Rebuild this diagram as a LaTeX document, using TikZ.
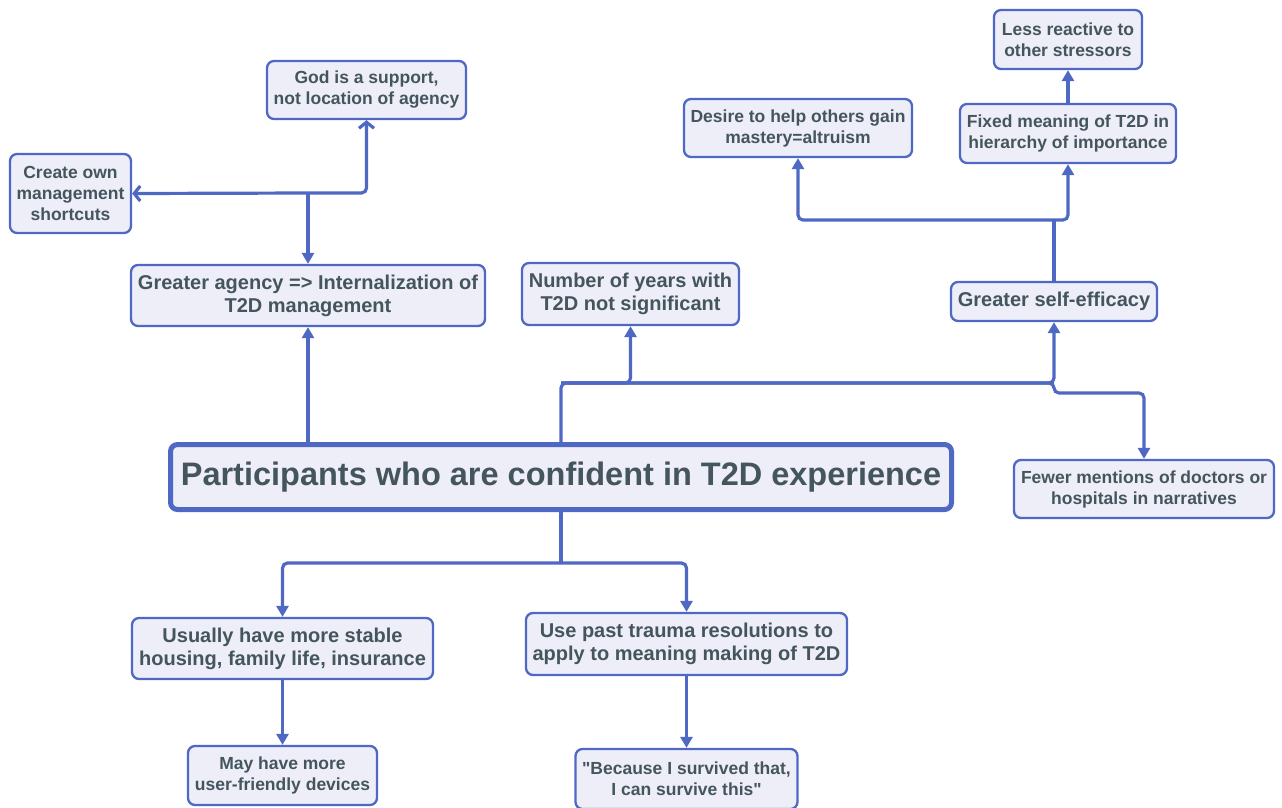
\documentclass[tikz,border=0pt]{standalone}
\usepackage{fontspec}
\setmainfont{Liberation Sans}[Ligatures=TeXOff]
\usetikzlibrary{arrows.meta,positioning,calc}
\definecolor{edgeblue}{HTML}{4F68C4}
\definecolor{boxfill}{HTML}{EDEEF8}
\definecolor{inktext}{HTML}{45555E}
\tikzset{
  box/.style={draw=edgeblue, fill=boxfill, line width=2.3pt, rounded corners=7pt,
    align=center, text=inktext, inner sep=0pt,
    font=\bfseries\fontsize{17.5}{21}\selectfont},
  bigbox/.style={box, font=\bfseries\fontsize{20}{23}\selectfont},
  mainbox/.style={box, line width=5pt, font=\bfseries\fontsize{32.5}{38}\selectfont},
  boxsize/.style 2 args={minimum width=#1pt, minimum height=#2pt},
  plain/.style={draw=edgeblue, line width=3.2pt, rounded corners=5pt},
  link/.style={plain, -{Triangle[length=11pt,width=12pt]}},
  openlink/.style={plain, -{Straight Barb[length=6pt,width=15pt]}},
}
\begin{document}
\begin{tikzpicture}[x=1pt, y=-1pt]
  \useasboundingbox (0,0) rectangle (1282,807);
  %centre
  \node[mainbox, boxsize={781}{65}] (main) at (561,477) {Participants who are confident in T2D experience};
  %upper left
  \node[bigbox, boxsize={354}{61}] (agency) at (308,295.5) {Greater agency => Internalization of\\T2D management};
  \node[box, boxsize={199}{58}] (god) at (366.5,90) {God is a support,\\not location of agency};
  \node[box, boxsize={121}{79}] (create) at (70.5,193.5) {Create own\\management\\shortcuts};
  %upper middle
  \node[bigbox, boxsize={217}{62}] (years) at (630.5,294) {Number of years with\\T2D not significant};
  %upper right
  \node[bigbox, boxsize={206}{39}] (eff) at (1054,301.5) {Greater self-efficacy};
  \node[box, boxsize={228}{58}] (desire) at (798,128) {Desire to help others gain\\mastery=altruism};
  \node[box, boxsize={216}{59}] (fixed) at (1068,133.5) {Fixed meaning of T2D in\\hierarchy of importance};
  \node[box, boxsize={148}{59}] (less) at (1068,39.5) {Less reactive to\\other stressors};
  \node[box, boxsize={260}{58}] (fewer) at (1144,489) {Fewer mentions of doctors or\\hospitals in narratives};
  %lower
  \node[bigbox, boxsize={301}{61}] (usually) at (282.5,648.5) {Usually have more stable\\housing, family life, insurance};
  \node[bigbox, boxsize={321}{62}] (trauma) at (686.5,644) {Use past trauma resolutions to\\apply to meaning making of T2D};
  \node[box, boxsize={189}{59}] (may) at (282.5,775.5) {May have more\\user-friendly devices};
  \node[box, boxsize={222}{60}] (because) at (686.5,779) {"Because I survived that,\\I can survive this"};
  %junctions
  \coordinate (upj) at (561,383);
  \coordinate (fewj) at (1054,393);
  \coordinate (agj) at (308,193);
  \coordinate (effj) at (1054,220);
  \coordinate (downj) at (561,563);
  %connectors
  \draw[link] (main.north -| agency.south) -- (agency.south);
  \draw[link] (main.north) -- (upj) -| (years.south);
  \draw[link] (upj) -| (eff.south);
  \draw[link] (upj) -| (fewj) -| (fewer.north);
  \draw[link] (agj) -- (agency.north);
  \draw[openlink] (agj) -- (create.east);
  \draw[openlink] (agj) -| (god.south);
  \draw[plain] (eff.north) -- (effj);
  \draw[link] (effj) -| (desire.south);
  \draw[link] (effj) -| (fixed.south);
  \draw[link] (fixed.north) -- (less.south);
  \draw[plain] (main.south) -- (downj);
  \draw[link] (downj) -| (usually.north);
  \draw[link] (downj) -| (trauma.north);
  \draw[link] (usually.south) -- (may.north);
  \draw[link] (trauma.south) -- (because.north);
\end{tikzpicture}
\end{document}
